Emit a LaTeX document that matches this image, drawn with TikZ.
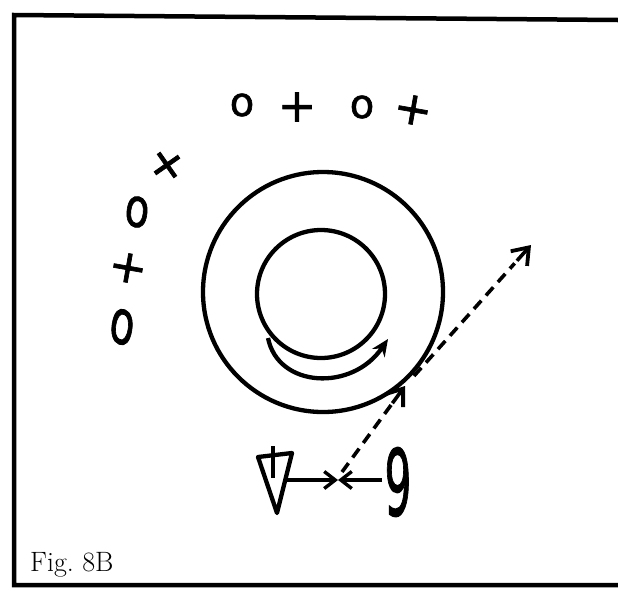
\documentclass[tikz,border=0pt]{standalone}
\usepackage{fontspec}
\newfontfamily\handfont[FakeBold=1.5]{DejaVu Sans}
\usetikzlibrary{arrows.meta,calc}
\tikzset{
  frameline/.style={line width=4.5pt, line cap=rect},
  ring/.style={line width=4.3pt},
  playermark/.style={inner sep=0pt, font=\handfont\fontsize{40}{40}\selectfont},
  crossmark/.style={inner sep=0pt, font=\handfont\fontsize{46}{46}\selectfont},
  passline/.style={line width=3.6pt, dash pattern=on 11pt off 7pt},
  barb/.style={solid, line width=3.6pt, -{Straight Barb[length=15pt,width=22pt,line width=3.8pt]}},
  solidarrow/.style={line width=3.6pt, -{Straight Barb[length=11pt,width=17pt,line width=3.4pt]}},
}
\begin{document}
\begin{tikzpicture}[x=1pt,y=-1pt]
\useasboundingbox (0,0) rectangle (618,590);
\fill[white] (0,0) rectangle (618,590);
% frame
\draw[frameline] (618,20) -- (14,15) -- (14,585) -- (618,585);
% caption
\node[anchor=base west, inner sep=0pt, font=\fontsize{28}{32}\selectfont] (cap) at (30,571) {Fig.\ 8B};
% rings
\node[draw, ring, circle, minimum size=240pt, inner sep=0pt] (outer) at (323,292) {};
\node[draw, ring, circle, minimum size=128pt, inner sep=0pt] (inner) at (321,294) {};
% rotation arrow
\coordinate (rotA) at (268,338);
\coordinate (rotB) at (388,339);
\draw[line width=4.3pt, -{Stealth[length=17pt,width=15pt]}] (rotA) .. controls (278,388) and (352,392) .. (rotB);
% players top row
\node[playermark] (o1) at (242,105) {o};
\node[crossmark] (x1) at (297,107) {+};
\node[playermark] (o2) at (362,107) {o};
\node[crossmark, rotate=-10] (x2) at (413,110) {+};
% players left arc
\node[crossmark, rotate=35] (x3) at (167,165) {+};
\node[playermark, yscale=1.35, rotate=-10] (o3) at (137,212) {o};
\node[crossmark, rotate=-10] (x4) at (128,268) {+};
\node[playermark, yscale=1.55, rotate=-15] (o4) at (122,327) {o};
% coach triangle
\coordinate (triL) at (258,457);
\coordinate (triR) at (292,453);
\coordinate (triB) at (277,513);
\draw[line width=4.3pt, line join=round] (triL) -- (triR) -- (triB) -- cycle;
\coordinate (triTop) at (273,446);
\coordinate (triMid) at (273,478);
\draw[line width=4pt] (triTop) -- (triMid);
\coordinate (coachR) at (285,480);
% nine
\node[inner sep=0pt, font=\handfont\fontsize{92}{92}\selectfont, xscale=0.46] (nine) at (398,482) {9};
\coordinate (nineL) at (382,480);
\coordinate (meet) at (338,480);
\draw[solidarrow] (coachR) -- (meet);
\draw[solidarrow] (nineL) -- (meet);
% dashed run
\coordinate (runA) at (342,472);
\coordinate (runB) at (405,386);
\coordinate (runC) at (414,376);
\coordinate (runD) at (531,245);
\draw[passline] (runA) -- ($(runA)!0.8!(runB)$);
\draw[barb] ($(runA)!0.8!(runB)$) -- (runB);
\draw[passline] (runC) -- ($(runC)!0.86!(runD)$);
\draw[barb] ($(runC)!0.88!(runD)$) -- (runD);
\end{tikzpicture}
\end{document}
